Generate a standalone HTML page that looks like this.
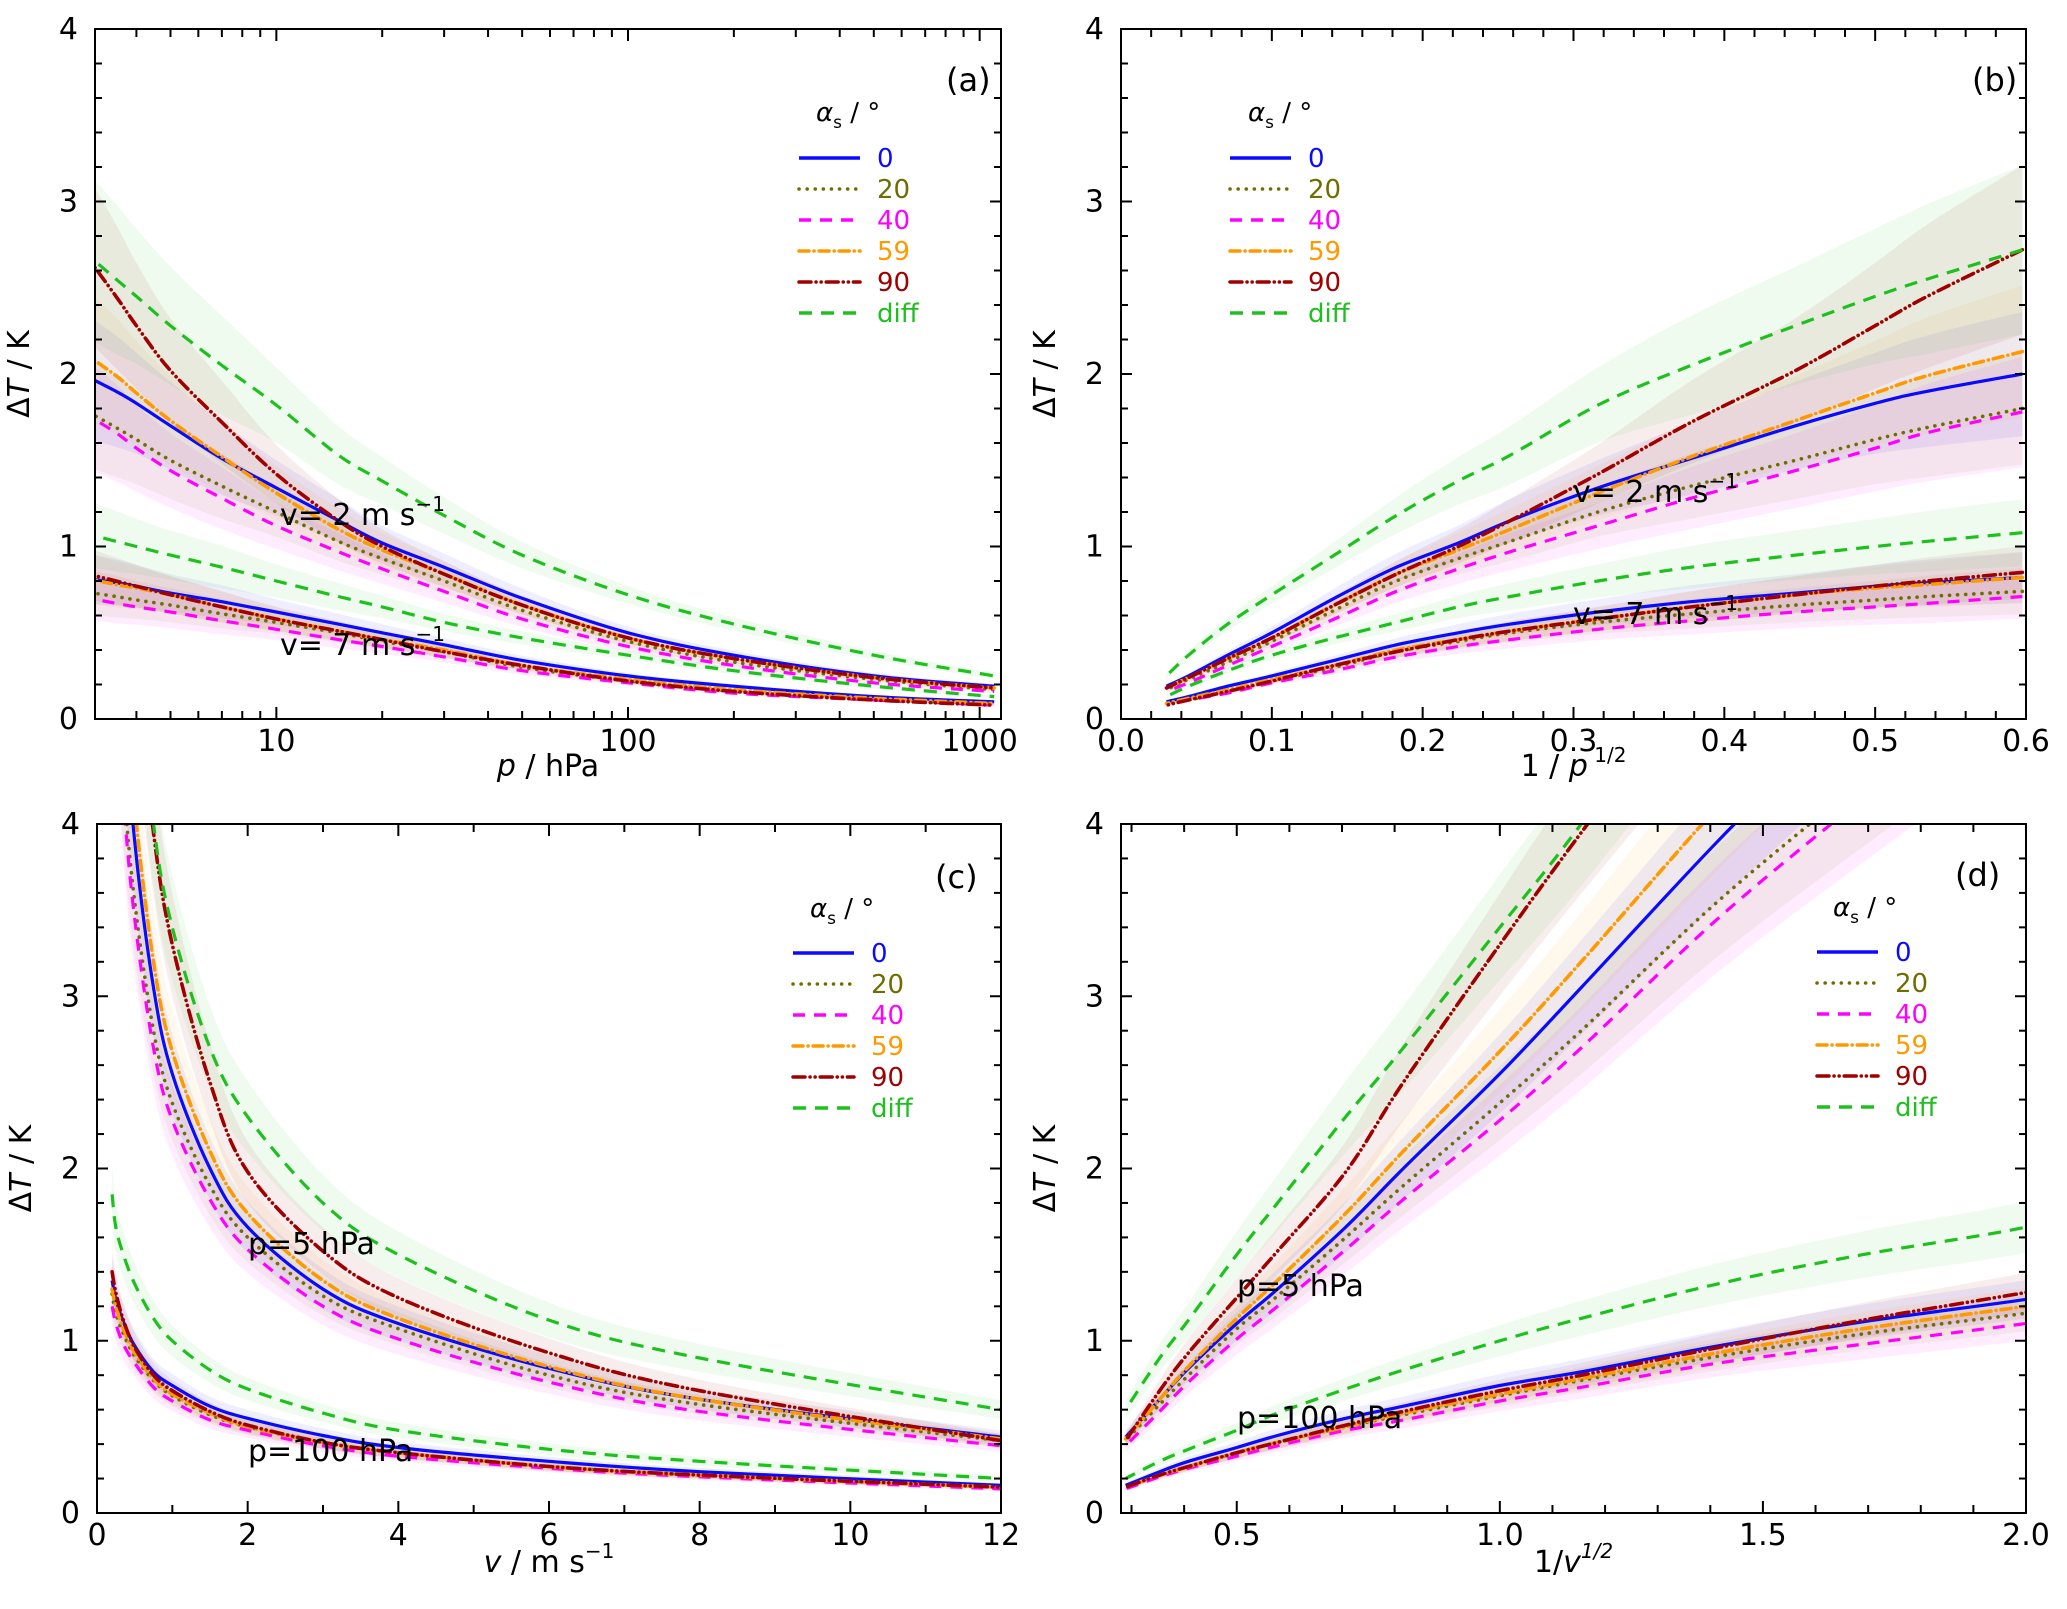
<!DOCTYPE html>
<html><head><meta charset="utf-8">
<style>
html,body{margin:0;padding:0;background:#fff;}
svg{display:block;font-family:"DejaVu Sans","Liberation Sans",sans-serif;}
</style></head>
<body>
<svg id="fig" width="2067" height="1609" viewBox="0 0 2067 1609" xmlns="http://www.w3.org/2000/svg"></svg>
<script>
// ---------- data ----------
const seriesNames = ["0","20","40","59","90","diff"];
const seriesColors = ["#0a0aff","#6e6e00","#ff00ff","#ff9900","#a00000","#1ec01e"];
const seriesDash = ["","0.1 8","12 9","10 5 0.1 5","12 5 0.1 5 0.1 5","13 9"];

// pressure samples (hPa) for panels (a),(b)
const pSamples = [2.8,3.5,4,5,7,10,15,20,30,50,100,200,500,1100];
// v = 2 m/s
const v2Values = [
  [2.0,1.9,1.83,1.7,1.51,1.34,1.15,1.02,0.88,0.70,0.50,0.37,0.25,0.19],
  [1.80,1.69,1.62,1.50,1.35,1.20,1.03,0.93,0.80,0.63,0.45,0.33,0.23,0.17],
  [1.78,1.66,1.57,1.44,1.28,1.12,0.97,0.87,0.74,0.58,0.42,0.31,0.21,0.16],
  [2.13,1.99,1.89,1.73,1.52,1.31,1.10,0.98,0.84,0.66,0.47,0.35,0.24,0.18],
  [2.72,2.45,2.28,2.02,1.72,1.42,1.15,1.00,0.84,0.66,0.47,0.35,0.24,0.18],
  [2.72,2.55,2.45,2.28,2.05,1.82,1.53,1.38,1.18,0.95,0.72,0.55,0.37,0.25]
];
// v = 7 m/s
const v7Values = [
  [0.82,0.79,0.77,0.73,0.68,0.62,0.55,0.50,0.43,0.34,0.25,0.19,0.13,0.10],
  [0.74,0.71,0.69,0.66,0.61,0.56,0.50,0.45,0.39,0.30,0.22,0.16,0.11,0.09],
  [0.71,0.67,0.65,0.62,0.57,0.52,0.46,0.42,0.36,0.28,0.21,0.15,0.11,0.08],
  [0.82,0.78,0.76,0.72,0.65,0.58,0.51,0.46,0.40,0.31,0.23,0.17,0.12,0.09],
  [0.85,0.80,0.77,0.72,0.65,0.58,0.51,0.46,0.39,0.31,0.22,0.16,0.11,0.08],
  [1.08,1.03,1.00,0.95,0.88,0.80,0.71,0.65,0.56,0.47,0.37,0.28,0.19,0.13]
];
const pRelErr = [0.18,0.17,0.16,0.15,0.14,0.12,0.11,0.10,0.09,0.08,0.07,0.07,0.07,0.07];

// wind speed samples (m/s) for panels (c),(d)
const vSamples = [0.2,0.25,0.35,0.5,0.75,1,1.5,2,3,4,6,8,12];
// p = 5 hPa
const p5Values = [
  [6.3,5.7,4.75,3.9,3.05,2.55,2.0,1.66,1.3,1.1,0.84,0.66,0.44],
  [5.5,5.0,4.25,3.55,2.8,2.38,1.9,1.6,1.26,1.07,0.8,0.63,0.42],
  [5.4,4.9,4.15,3.45,2.7,2.28,1.82,1.53,1.2,1.01,0.76,0.59,0.39],
  [6.7,6.0,5.0,4.1,3.2,2.68,2.1,1.74,1.35,1.13,0.85,0.66,0.43],
  [8.1,7.3,6.1,5.0,3.95,3.3,2.5,1.98,1.52,1.25,0.93,0.71,0.42],
  [8.1,7.3,6.2,5.1,4.0,3.4,2.7,2.3,1.8,1.5,1.12,0.90,0.60]
];
// p = 100 hPa
const p100Values = [
  [1.35,1.24,1.11,0.97,0.82,0.74,0.62,0.55,0.45,0.38,0.30,0.24,0.16],
  [1.27,1.16,1.04,0.91,0.77,0.68,0.57,0.50,0.41,0.35,0.27,0.22,0.15],
  [1.20,1.10,0.98,0.87,0.73,0.65,0.54,0.48,0.39,0.33,0.26,0.21,0.14],
  [1.30,1.20,1.07,0.93,0.78,0.69,0.58,0.50,0.41,0.35,0.27,0.22,0.15],
  [1.40,1.28,1.12,0.96,0.80,0.71,0.59,0.51,0.41,0.35,0.27,0.22,0.15],
  [1.85,1.66,1.50,1.33,1.13,1.00,0.83,0.72,0.58,0.48,0.37,0.30,0.20]
];
const vRelErr = [0.09,0.09,0.09,0.09,0.09,0.09,0.09,0.09,0.09,0.09,0.09,0.09,0.09];

// ---------- helpers ----------
const NS="http://www.w3.org/2000/svg";
const svg=document.getElementById('fig');
function mk(tag,attrs,parent){const e=document.createElementNS(NS,tag);for(const k in attrs)e.setAttribute(k,attrs[k]);(parent||svg).appendChild(e);return e;}

const panels = {
  a:{x0:95,x1:1001,y0:29,y1:719,xmin:Math.log10(3.05),xmax:Math.log10(1150),tx:p=>Math.log10(p)},
  b:{x0:1121,x1:2026,y0:29,y1:719,xmin:0,xmax:0.6,tx:p=>1/Math.sqrt(p)},
  c:{x0:97,x1:1001,y0:824,y1:1513,xmin:0,xmax:12,tx:v=>v},
  d:{x0:1121,x1:2026,y0:824,y1:1513,xmin:0.28,xmax:2.0,tx:v=>1/Math.sqrt(v)}
};
function sx(P,x){return P.x0+(P.tx(x)-P.xmin)/(P.xmax-P.xmin)*(P.x1-P.x0);}
function sxr(P,u){return P.x0+(u-P.xmin)/(P.xmax-P.xmin)*(P.x1-P.x0);}
function sy(P,y){return P.y1-(y/4)*(P.y1-P.y0);}
function smooth(pts,start){
  let d=start?('M'+pts[0][0].toFixed(1)+','+pts[0][1].toFixed(1)):('L'+pts[0][0].toFixed(1)+','+pts[0][1].toFixed(1));
  for(let i=0;i<pts.length-1;i++){
    const p0=pts[Math.max(0,i-1)],p1=pts[i],p2=pts[i+1],p3=pts[Math.min(pts.length-1,i+2)];
    const c1=[p1[0]+(p2[0]-p0[0])/6,p1[1]+(p2[1]-p0[1])/6];
    const c2=[p2[0]-(p3[0]-p1[0])/6,p2[1]-(p3[1]-p1[1])/6];
    d+=' C'+c1[0].toFixed(1)+','+c1[1].toFixed(1)+' '+c2[0].toFixed(1)+','+c2[1].toFixed(1)+' '+p2[0].toFixed(1)+','+p2[1].toFixed(1);
  }
  return d;
}

function drawPanel(key,samples,groups,relErr){
  const P=panels[key];
  const g=mk('g',{});
  
  
  const clip=mk('clipPath',{id:'clip-'+key},g);
  mk('rect',{x:P.x0,y:P.y0,width:P.x1-P.x0,height:P.y1-P.y0},clip);
  const plot=mk('g',{'clip-path':'url(#clip-'+key+')'},g);
  groups.forEach((vals,gi)=>{
    vals.forEach((arr,si)=>{
      let up=[],lo=[];
      samples.forEach((s,i)=>{up.push([sx(P,s),sy(P,arr[i]*(1+relErr[i]))]);lo.push([sx(P,s),sy(P,arr[i]*(1-relErr[i]))]);});
      const d=smooth(up,true)+' '+smooth(lo.reverse(),false)+' Z';
      const b=mk('path',{d:d,fill:seriesColors[si],'fill-opacity':0.07,stroke:'none'},plot);
      
      
    });
  });
  groups.forEach((vals,gi)=>{
    vals.forEach((arr,si)=>{
      const pts=samples.map((s,i)=>[sx(P,s),sy(P,arr[i])]);
      const attrs={d:smooth(pts,true),fill:'none',stroke:seriesColors[si],'stroke-width':3.2,'stroke-linejoin':'round'};
      if(seriesDash[si]){attrs['stroke-dasharray']=seriesDash[si];}
      if(si==1||si==3||si==4){attrs['stroke-linecap']='round';attrs['stroke-width']=3.6;}
      const l=mk('path',attrs,plot);
      
      
    });
  });
  const fr=mk('rect',{x:P.x0,y:P.y0,width:P.x1-P.x0,height:P.y1-P.y0,fill:'none',stroke:'#000','stroke-width':2},g);
  
  
  for(let k=0;k<=20;k++){
    const v=k*0.2, y=sy(P,v), L=(k%5==0)?11:7;
    mk('line',{x1:P.x0,x2:P.x0+L,y1:y,y2:y,stroke:'#000','stroke-width':2},g);
    mk('line',{x1:P.x1,x2:P.x1-L,y1:y,y2:y,stroke:'#000','stroke-width':2},g);
    if(k%5==0){
      const t=mk('text',{x:P.x0-17,y:y+10,'font-size':30,'text-anchor':'end',fill:'#000'},g);
      t.textContent=String(v.toFixed(0));
      
      
    }
  }
  return {g,P};
}
function xTick(P,g,u,major,label){
  const x=sxr(P,u), L=major?12:8;
  mk('line',{x1:x,x2:x,y1:P.y1,y2:P.y1-L,stroke:'#000','stroke-width':2},g);
  mk('line',{x1:x,x2:x,y1:P.y0,y2:P.y0+L,stroke:'#000','stroke-width':2},g);
  if(label!==undefined){
    const t=mk('text',{x:x,y:P.y1+32,'font-size':30,'text-anchor':'middle',fill:'#000'},g);
    t.textContent=label;
    
    
  }
}
function legend(g,lx,tx,ty,rows0){
  const lg=mk('g',{},g);
  
  
  const t=mk('text',{x:tx,y:ty,'font-size':26,fill:'#000'},lg);
  t.innerHTML='<tspan font-style="italic">α</tspan><tspan font-size="17" dy="7">s</tspan><tspan dy="-7"> / °</tspan>';
  seriesNames.forEach((n,i)=>{
    const y=rows0+i*31;
    const attrs={x1:lx,x2:lx+61,y1:y,y2:y,stroke:seriesColors[i],'stroke-width':3.5};
    if(seriesDash[i]){attrs['stroke-dasharray']=seriesDash[i];}
    if(i==1||i==3||i==4){attrs['stroke-linecap']='round';}
    mk('line',attrs,lg);
    const e=mk('text',{x:lx+78,y:y+9,'font-size':26,fill:seriesColors[i]},lg);
    e.textContent=n;
    
    
  });
}
function txt(g,x,y,html,size,name,anchor){
  const t=mk('text',{x:x,y:y,'font-size':size||30,fill:'#000','text-anchor':anchor||'start'},g);
  t.innerHTML=html;
  
  
  return t;
}
function ytitle(g,P){
  const cy=(P.y0+P.y1)/2, cx=P.x0-66;
  const t=mk('text',{x:cx,y:cy,'font-size':30,fill:'#000','text-anchor':'middle',transform:'rotate(-90 '+cx+' '+cy+')'},g);
  t.innerHTML='Δ<tspan font-style="italic">T</tspan> / K';
  
  
}

// ---- panel a ----
{
  const {g,P}=drawPanel('a',pSamples,[v2Values,v7Values],pRelErr);
  for(let dec=0;dec<4;dec++){for(let m=1;m<10;m++){const p=m*Math.pow(10,dec);const u=Math.log10(p);if(u<P.xmin||u>P.xmax)continue;
    xTick(P,g,u,m==1,m==1?String(p):undefined);}}
  ytitle(g,P);
  txt(g,(P.x0+P.x1)/2,776,'<tspan font-style="italic">p</tspan> / hPa',30,'x-axis-title','middle');
  txt(g,946,91,'(a)',32,'panel-label-a');
  legend(g,799,816,121,158);
  txt(g,280,525,'v= 2 m s<tspan font-size="20" dy="-14">−1</tspan>',30,'annotation-v2');
  txt(g,280,655,'v= 7 m s<tspan font-size="20" dy="-14">−1</tspan>',30,'annotation-v7');
}
// ---- panel b ----
{
  const {g,P}=drawPanel('b',pSamples,[v2Values,v7Values],pRelErr);
  for(let k=0;k<=30;k++){const u=k*0.02;xTick(P,g,u,k%5==0,k%5==0?u.toFixed(1):undefined);}
  ytitle(g,P);
  txt(g,(P.x0+P.x1)/2,776,'1 / <tspan font-style="italic">p</tspan><tspan font-size="20" dy="-14"> 1/2</tspan>',30,'x-axis-title','middle');
  txt(g,1972,91,'(b)',32,'panel-label-b');
  legend(g,1230,1248,121,158);
  txt(g,1573,502,'v= 2 m s<tspan font-size="20" dy="-14">−1</tspan>',30,'annotation-v2');
  txt(g,1573,624,'v= 7 m s<tspan font-size="20" dy="-14">−1</tspan>',30,'annotation-v7');
}
// ---- panel c ----
{
  const {g,P}=drawPanel('c',vSamples,[p5Values,p100Values],vRelErr);
  for(let k=0;k<=12;k++){xTick(P,g,k,k%2==0,k%2==0?String(k):undefined);}
  ytitle(g,P);
  txt(g,(P.x0+P.x1)/2,1572,'<tspan font-style="italic">v</tspan> / m s<tspan font-size="20" dy="-14">−1</tspan>',30,'x-axis-title','middle');
  txt(g,935,888,'(c)',32,'panel-label-c');
  legend(g,793,810,917,953);
  txt(g,248,1254,'p=5 hPa',30,'annotation-p5');
  txt(g,248,1461,'p=100 hPa',30,'annotation-p100');
}
// ---- panel d ----
{
  const {g,P}=drawPanel('d',vSamples,[p5Values,p100Values],vRelErr);
  for(let k=3;k<=20;k++){const u=k/10;xTick(P,g,u,k%5==0,k%5==0?u.toFixed(1):undefined);}
  ytitle(g,P);
  txt(g,(P.x0+P.x1)/2,1572,'1/<tspan font-style="italic">v</tspan><tspan font-size="20" dy="-14" font-style="italic">1/2</tspan>',30,'x-axis-title','middle');
  txt(g,1955,886,'(d)',32,'panel-label-d');
  legend(g,1817,1833,916,952);
  txt(g,1237,1296,'p=5 hPa',30,'annotation-p5');
  txt(g,1237,1428,'p=100 hPa',30,'annotation-p100');
}
</script>
</body></html>
